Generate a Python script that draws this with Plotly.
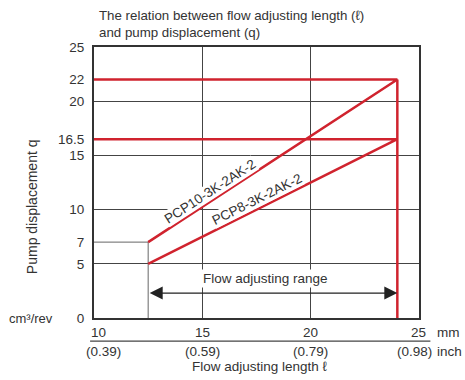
import plotly.graph_objects as go

# ---- data ----
length_mm = [12.5, 24]          # flow adjusting length (start, end)
pcp10_q = [7, 22]               # PCP10-3K-2AK-2 displacement
pcp8_q = [5, 16.5]              # PCP8-3K-2AK-2 displacement
x_ticks = [10, 15, 20, 25]
inch_labels = ["(0.39)", "(0.59)", "(0.79)", "(0.98)"]
y_ticks = [0, 5, 7, 10, 15, 16.5, 20, 22, 25]
y_grid = [5, 10, 15, 20]
range_y = 2.3                   # level of the "Flow adjusting range" arrow
series_names = ["PCP10-3K-2AK-2", "PCP8-3K-2AK-2"]

RED = "#d0232e"
TXT = "#333333"
FONT = "Liberation Sans, Arial, sans-serif"
xmin, xmax = x_ticks[0], x_ticks[-1]
mm_shift = [4, 0, 0, -1]
inch_shift = [9, 0, 0, -5]

fig = go.Figure()

# gray start-of-range helper lines
fig.add_trace(go.Scatter(
    x=[xmin, length_mm[0], length_mm[0]], y=[pcp10_q[0], pcp10_q[0], 0],
    mode="lines", line=dict(color="#666666", width=1), hoverinfo="skip"))

for q in (pcp10_q, pcp8_q):
    fig.add_trace(go.Scatter(
        x=[xmin, length_mm[1], length_mm[0]], y=[q[1], q[1], q[0]],
        mode="lines", line=dict(color=RED, width=2.5), hoverinfo="skip"))
fig.add_trace(go.Scatter(
    x=[length_mm[1], length_mm[1]], y=[0, max(pcp10_q)],
    mode="lines", line=dict(color=RED, width=2.5), hoverinfo="skip"))


def txt(x, y, text, xref="paper", yref="paper", size=13, **kw):
    d = dict(x=x, y=y, xref=xref, yref=yref, text=text, showarrow=False,
             xanchor="center", yanchor="middle",
             font=dict(size=size, color=TXT, family=FONT))
    d.update(kw)
    return d


ann = []
# series labels along the lines
ann.append(txt(15.35, 11.7, series_names[0], "x", "y", 13.5,
               textangle=-33, bgcolor="white", borderpad=0))
ann.append(txt(17.5, 10.9, series_names[1], "x", "y", 13.5,
               textangle=-26.6, bgcolor="white", borderpad=0))
# flow adjusting range arrow
ann.append(dict(x=length_mm[1], y=range_y, ax=length_mm[0], ay=range_y,
                xref="x", yref="y", axref="x", ayref="y", text="",
                showarrow=True, arrowside="end+start", arrowhead=2,
                arrowsize=2, arrowwidth=1.3, arrowcolor="#222222"))
ann.append(txt(17.9, 3.6, "Flow adjusting range", "x", "y", 13.5,
               bgcolor="white", borderpad=1))
# mm tick labels and inch labels
for xv, lab, s1, s2 in zip(x_ticks, inch_labels, mm_shift, inch_shift):
    ann.append(txt(xv, -0.052, "%g" % xv, "x", "paper", 13.5, xshift=s1))
    ann.append(txt(xv, -0.125, lab, "x", "paper", 13.5, xshift=s2))
ann.append(txt(1.049, -0.052, "mm", size=13.5, xanchor="left"))
ann.append(txt(1.049, -0.125, "inch", size=13.5, xanchor="left"))
ann.append(txt(0.51, -0.18, "Flow adjusting length ℓ", size=13.5))
ann.append(txt(-0.194, 0, "cm³/rev"))
ann.append(txt(-0.19, 0.41, "Pump displacement q", size=14, textangle=-90))
# title (two lines)
ann.append(txt(0.008, (318 - 15) / 271, "The relation between flow adjusting length (ℓ)",
               size=13.3, xanchor="left"))
ann.append(txt(0.008, (318 - 32) / 271, "and pump displacement (q)",
               size=13.3, xanchor="left"))

fig.update_layout(
    width=465, height=380,
    margin=dict(l=94, r=46, t=47, b=62, autoexpand=False),
    paper_bgcolor="white", plot_bgcolor="white",
    showlegend=False,
    font=dict(family=FONT, size=13, color=TXT),
    annotations=ann,
    shapes=[dict(type="line", xref="paper", yref="paper",
                 x0=-0.012, x1=1.035, y0=-0.085, y1=-0.085,
                 line=dict(color="#444444", width=1.2))],
    xaxis=dict(range=[xmin, xmax], tickmode="array", tickvals=x_ticks,
               showticklabels=False,
               showgrid=True, gridcolor="#444444", gridwidth=1,
               showline=True, mirror=True, linecolor="#333333", linewidth=2,
               ticks="", zeroline=False),
    yaxis=dict(range=[0, 25], tickmode="array", tickvals=y_ticks,
               ticktext=[("%g" % v) for v in y_ticks],
               showgrid=False, ticklabelstandoff=5,
               minor=dict(tickmode="array", tickvals=y_grid, showgrid=True,
                          gridcolor="#444444", gridwidth=1, ticks=""),
               showline=True, mirror=True, linecolor="#333333", linewidth=2,
               ticks="", zeroline=False, tickfont=dict(size=13.5, color=TXT)),
)

fig.write_html("out.html", config={"displayModeBar": False},
               post_script="document.body.style.margin='0';"
                           "document.body.style.overflow='hidden';")
